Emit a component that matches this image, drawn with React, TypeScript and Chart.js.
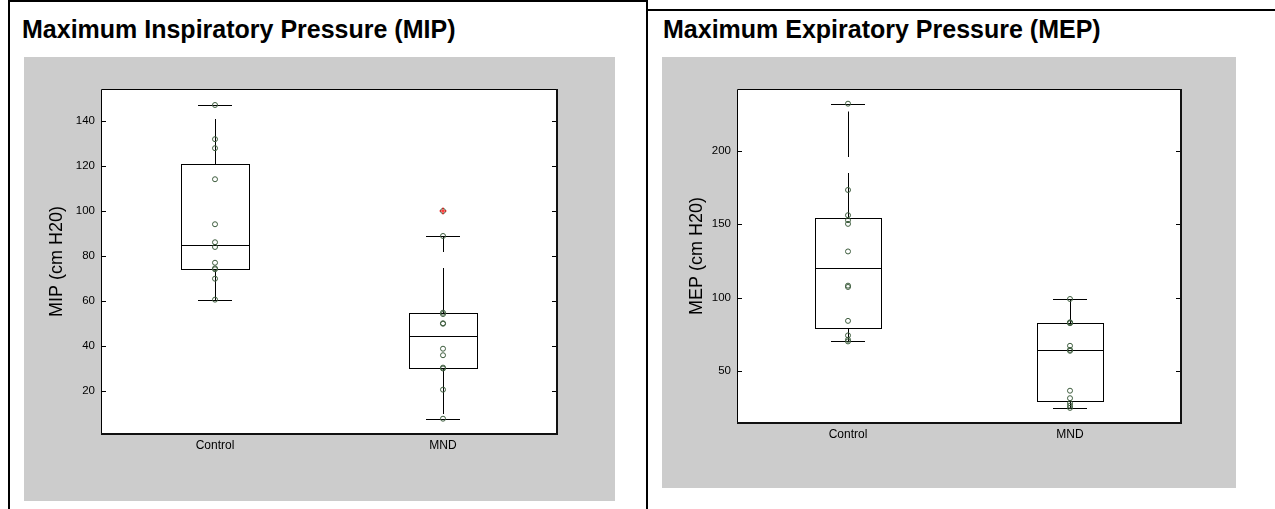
import React, { useEffect, useRef } from "react";
import { Chart, registerables } from "chart.js";

Chart.register(...registerables);

// ---------- data ----------
const categories = ["Control", "MND"];

// Maximum Inspiratory Pressure (cm H20)
const mipControl = [147.1, 131.9, 127.9, 114.1, 94.1, 86.1, 84.0, 77.0, 74.5, 74.1, 69.9, 60.6];
const mipMND = [100.0, 88.9, 54.8, 54.2, 50.1, 49.9, 38.8, 35.9, 30.4, 30.0, 20.6, 7.7];
const mipWhiskerLow = [60.6, 7.7];
const mipQ1 = [74.3, 30.2];
const mipMedian = [84.7, 44.4];
const mipQ3 = [120.9, 54.5];
const mipWhiskerHigh = [147.1, 88.9];
const mipOutliers = [[], [100.0]];
const mipTicks = [20, 40, 60, 80, 100, 120, 140];
const mipRange = [0.9, 154.2];

// Maximum Expiratory Pressure (cm H20)
const mepControl = [232.1, 173.3, 156.1, 152.7, 150.2, 131.4, 108.1, 107.2, 84.1, 74.2, 71.2, 70.1];
const mepMND = [99.0, 83.1, 82.8, 82.5, 67.1, 64.3, 63.7, 36.5, 31.4, 28.0, 26.3, 24.8];
const mepWhiskerLow = [70.3, 24.8];
const mepQ1 = [79.4, 29.7];
const mepMedian = [119.9, 64.0];
const mepQ3 = [154.3, 82.8];
const mepWhiskerHigh = [232.1, 99.0];
const mepOutliers = [[], []];
const mepTicks = [50, 100, 150, 200];
const mepRange = [14.5, 242.1];

// ---------- styling ----------
const FONT = "'Liberation Sans', Arial, Helvetica, sans-serif";
const POINT_COLOR = "#3f5e3f";
const GRAY = "#cccccc";

type Spec = {
  groups: number[][];
  low: number[];
  q1: number[];
  med: number[];
  q3: number[];
  high: number[];
  outliers: number[][];
  ticks: number[];
  range: number[];
  yTitle: string;
  width: number;
  height: number;
  padTop: number;
  padRight: number;
  yAxisWidth: number;
  xAxisHeight: number;
  titlePad: number;
};

function crisp(v: number) {
  return Math.round(v) + 0.5;
}

function makePlugin(spec: Spec) {
  return {
    id: "boxplotDraw",
    beforeDraw(chart: any) {
      const { ctx, chartArea: a } = chart;
      ctx.save();
      ctx.fillStyle = "#ffffff";
      ctx.fillRect(a.left, a.top, a.right - a.left, a.bottom - a.top);
      ctx.restore();
    },
    beforeDatasetsDraw(chart: any) {
      const { ctx } = chart;
      const xs = chart.scales.x;
      const ys = chart.scales.y;
      ctx.save();
      ctx.strokeStyle = "#000000";
      ctx.lineWidth = 1;
      for (let i = 0; i < categories.length; i++) {
        const xv = i + 1;
        const xc = xs.getPixelForValue(xv);
        const half = xs.getPixelForValue(xv + 0.15) - xc;
        const capHalf = half / 2;
        const yq1 = ys.getPixelForValue(spec.q1[i]);
        const yq3 = ys.getPixelForValue(spec.q3[i]);
        const ymed = ys.getPixelForValue(spec.med[i]);
        const ylo = ys.getPixelForValue(spec.low[i]);
        const yhi = ys.getPixelForValue(spec.high[i]);
        const xl = crisp(xc - half);
        const xr = crisp(xc + half);
        const xm = crisp(xc);
        // box
        ctx.setLineDash([]);
        ctx.strokeRect(xl, crisp(yq3), xr - xl, crisp(yq1) - crisp(yq3));
        // median
        ctx.beginPath();
        ctx.moveTo(xl, crisp(ymed));
        ctx.lineTo(xr, crisp(ymed));
        ctx.stroke();
        // whiskers (dashed, starting at the box)
        ctx.setLineDash([45.5, 16]);
        ctx.beginPath();
        ctx.moveTo(xm, crisp(yq3));
        ctx.lineTo(xm, crisp(yhi));
        ctx.stroke();
        ctx.beginPath();
        ctx.moveTo(xm, crisp(yq1));
        ctx.lineTo(xm, crisp(ylo));
        ctx.stroke();
        ctx.setLineDash([]);
        // caps
        ctx.beginPath();
        ctx.moveTo(Math.round(xc - capHalf), crisp(yhi));
        ctx.lineTo(Math.round(xc + capHalf), crisp(yhi));
        ctx.moveTo(Math.round(xc - capHalf), crisp(ylo));
        ctx.lineTo(Math.round(xc + capHalf), crisp(ylo));
        ctx.stroke();
      }
      ctx.restore();
    },
    afterDatasetsDraw(chart: any) {
      const { ctx, chartArea: a } = chart;
      const ys = chart.scales.y;
      ctx.save();
      ctx.strokeStyle = "#000000";
      ctx.lineWidth = 1;
      // inward tick marks, left and right
      ctx.beginPath();
      for (const t of spec.ticks) {
        const y = crisp(ys.getPixelForValue(t));
        ctx.moveTo(a.left, y);
        ctx.lineTo(a.left + 5, y);
        ctx.moveTo(a.right - 5, y);
        ctx.lineTo(a.right, y);
      }
      ctx.stroke();
      // frame
      ctx.beginPath();
      ctx.moveTo(crisp(a.left), crisp(a.bottom));
      ctx.lineTo(crisp(a.left), crisp(a.top));
      ctx.lineTo(crisp(a.right), crisp(a.top));
      ctx.stroke();
      ctx.lineWidth = 2;
      ctx.strokeStyle = "#111111";
      ctx.beginPath();
      ctx.moveTo(Math.round(a.left), Math.round(a.bottom));
      ctx.lineTo(Math.round(a.right), Math.round(a.bottom));
      ctx.lineTo(Math.round(a.right), Math.round(a.top));
      ctx.stroke();
      ctx.restore();
    },
  };
}

function BoxChart({ spec }: { spec: Spec }) {
  const ref = useRef<HTMLCanvasElement | null>(null);
  useEffect(() => {
    if (!ref.current) return;
    const pointDatasets = spec.groups.map((vals, i) => ({
      label: categories[i],
      data: vals.map((v) => ({ x: i + 1, y: v })),
      showLine: false,
      pointStyle: "circle",
      pointRadius: 2.5,
      pointBorderWidth: 1,
      pointBorderColor: POINT_COLOR,
      pointBackgroundColor: "rgba(0,0,0,0)",
    }));
    const outlierData: { x: number; y: number }[] = [];
    spec.outliers.forEach((vals, i) => vals.forEach((v) => outlierData.push({ x: i + 1, y: v })));
    const chart = new Chart(ref.current, {
      type: "scatter",
      data: {
        datasets: [
          {
            label: "outliers",
            data: outlierData,
            showLine: false,
            pointStyle: "cross",
            pointRadius: 3.5,
            pointBorderWidth: 1,
            pointBorderColor: "#ff0000",
            pointBackgroundColor: "#ff0000",
          } as any,
          ...(pointDatasets as any[]),
        ],
      },
      options: {
        animation: false,
        responsive: false,
        maintainAspectRatio: false,
        events: [],
        layout: { padding: { top: spec.padTop, right: spec.padRight, left: 0, bottom: 0 } },
        plugins: { legend: { display: false }, tooltip: { enabled: false } },
        scales: {
          x: {
            type: "linear",
            min: 0.5,
            max: 2.5,
            afterBuildTicks: (s: any) => {
              s.ticks = categories.map((_, i) => ({ value: i + 1 }));
            },
            afterFit: (s: any) => {
              s.height = spec.xAxisHeight;
            },
            ticks: {
              callback: (_v: any, idx: number) => categories[idx],
              font: { family: FONT, size: 12 },
              color: "#000000",
              padding: 4,
              maxRotation: 0,
              autoSkip: false,
            },
            grid: { display: false, drawTicks: false },
            border: { display: false },
          },
          y: {
            type: "linear",
            min: spec.range[0],
            max: spec.range[1],
            afterBuildTicks: (s: any) => {
              s.ticks = spec.ticks.map((v) => ({ value: v }));
            },
            afterFit: (s: any) => {
              s.width = spec.yAxisWidth;
            },
            ticks: {
              font: { family: FONT, size: 11.5 },
              color: "#000000",
              padding: 6,
              autoSkip: false,
            },
            grid: { display: false, drawTicks: false },
            border: { display: false },
            title: {
              display: true,
              text: spec.yTitle,
              color: "#000000",
              font: { family: FONT, size: 18, lineHeight: 1.2 },
              padding: { top: spec.titlePad, bottom: 0 },
            },
          },
        },
      } as any,
      plugins: [makePlugin(spec)],
    });
    return () => chart.destroy();
  }, [spec]);
  return (
    <canvas
      ref={ref}
      width={spec.width}
      height={spec.height}
      style={{ width: spec.width, height: spec.height, display: "block" }}
    />
  );
}

const mipSpec: Spec = {
  groups: [mipControl, mipMND],
  low: mipWhiskerLow,
  q1: mipQ1,
  med: mipMedian,
  q3: mipQ3,
  high: mipWhiskerHigh,
  outliers: mipOutliers,
  ticks: mipTicks,
  range: mipRange,
  yTitle: "MIP (cm H20)",
  width: 591,
  height: 444,
  padTop: 32,
  padRight: 58,
  yAxisWidth: 77,
  xAxisHeight: 67,
  titlePad: 22,
};

const mepSpec: Spec = {
  groups: [mepControl, mepMND],
  low: mepWhiskerLow,
  q1: mepQ1,
  med: mepMedian,
  q3: mepQ3,
  high: mepWhiskerHigh,
  outliers: mepOutliers,
  ticks: mepTicks,
  range: mepRange,
  yTitle: "MEP (cm H20)",
  width: 574,
  height: 431,
  padTop: 32,
  padRight: 55,
  yAxisWidth: 75,
  xAxisHeight: 65,
  titlePad: 24,
};

const abs = (left: number, top: number, width: number, height: number, extra: any = {}) => ({
  position: "absolute" as const,
  left,
  top,
  width,
  height,
  ...extra,
});

const titleStyle = (left: number) => ({
  position: "absolute" as const,
  left,
  top: 15,
  fontFamily: FONT,
  fontWeight: 700,
  fontSize: 25,
  lineHeight: "28px",
  color: "#000",
  whiteSpace: "nowrap" as const,
});

export default function App() {
  return (
    <div style={abs(0, 0, 1275, 509, { background: "#fff", overflow: "hidden" })}>
      {/* table borders */}
      <div style={abs(8, 0, 2, 509, { background: "#000" })} />
      <div style={abs(8, 0, 640, 2, { background: "#000" })} />
      <div style={abs(646, 0, 2, 509, { background: "#000" })} />
      <div style={abs(648, 9, 627, 2, { background: "#000" })} />

      <div style={titleStyle(22)}>Maximum Inspiratory Pressure (MIP)</div>
      <div style={titleStyle(663)}>Maximum Expiratory Pressure (MEP)</div>

      <div style={abs(24, 57, 591, 444, { background: GRAY })}>
        <BoxChart spec={mipSpec} />
      </div>
      <div style={abs(662, 57, 574, 431, { background: GRAY })}>
        <BoxChart spec={mepSpec} />
      </div>
    </div>
  );
}
